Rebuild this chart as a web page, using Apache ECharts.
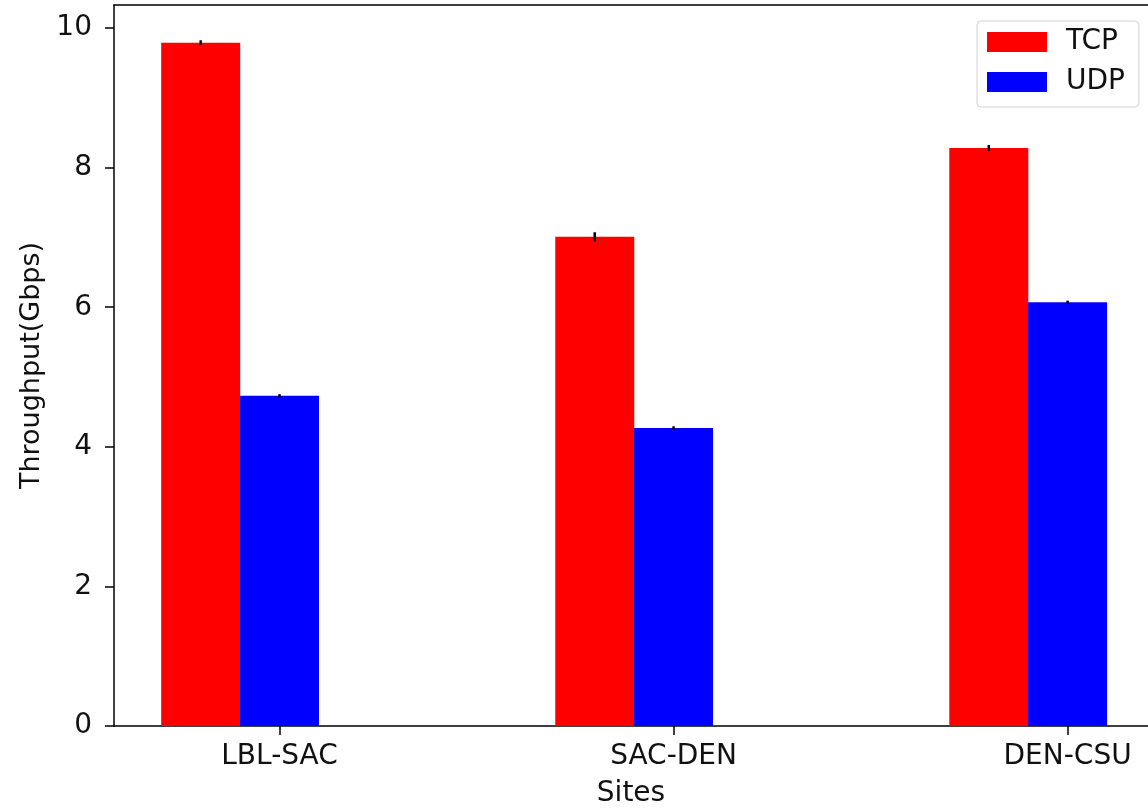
<!DOCTYPE html>
<html>
<head>
<meta charset="utf-8">
<script src="https://cdn.jsdelivr.net/npm/echarts@6/dist/echarts.min.js"></script>
<style>
  html, body { margin: 0; padding: 0; background: #fff; }
  #chart { width: 1148px; height: 808px; }
</style>
</head>
<body>
<div id="chart"></div>
<script>
// Measured throughput per site pair (Gbps)
const sites = ['LBL-SAC', 'SAC-DEN', 'DEN-CSU'];
const tcp = [9.79, 7.01, 8.28];
const udp = [4.73, 4.27, 6.07];
const tcpErr = [0.02, 0.05, 0.03];
const udpErr = [0.01, 0.01, 0.01];
const yTicks = [0, 2, 4, 6, 8, 10];

// bar slot width on the numeric x scale; TCP sits one slot left of each site tick
const slot = 0.2;

const tcpPoints = sites.map((s, i) => [i - slot, tcp[i]]);
const udpPoints = sites.map((s, i) => [i, udp[i]]);
const errPoints = [
  ...sites.map((s, i) => [i - slot, tcp[i], tcpErr[i]]),
  ...sites.map((s, i) => [i, udp[i], udpErr[i]])
];

const font = 'DejaVu Sans';
const ink = '#111';
const fs = 28;
const chart = echarts.init(document.getElementById('chart'), null, { renderer: 'canvas' });

chart.setOption({
  animation: false,
  backgroundColor: '#fff',
  textStyle: { fontFamily: font },
  grid: {
    left: 114, top: 5, right: 0, bottom: 82,
    outerBoundsMode: 'none',
    containLabel: false
  },
  legend: {
    orient: 'vertical',
    left: 977, top: 21,
    padding: [7, 14, 11, 10],
    itemWidth: 60, itemHeight: 20, itemGap: 12,
    backgroundColor: '#fff',
    borderColor: '#d0d0d0', borderWidth: 1, borderRadius: 4,
    icon: 'rect',
    textStyle: { fontFamily: font, fontSize: fs, color: ink, padding: [0, 0, 0, 14] },
    data: ['TCP', 'UDP']
  },
  xAxis: [
    {
      type: 'value',
      min: -0.42, max: 2.204,
      name: 'Sites',
      nameLocation: 'middle',
      nameGap: 54,
      nameTextStyle: { fontFamily: font, fontSize: fs, color: ink },
      axisLine: { show: true, onZero: false, lineStyle: { color: '#000', width: 1.5 } },
      axisTick: { show: true, customValues: [0, 1, 2], length: 9, lineStyle: { color: '#000', width: 1.5 } },
      axisLabel: {
        customValues: [0, 1, 2],
        formatter: v => sites[Math.round(v)],
        margin: 17,
        fontFamily: font, fontSize: fs, color: ink
      },
      splitLine: { show: false }
    },
    {
      // top frame line
      type: 'value', position: 'top',
      min: -0.42, max: 2.204,
      axisLine: { show: true, onZero: false, lineStyle: { color: '#000', width: 1.5 } },
      axisTick: { show: false },
      axisLabel: { show: false },
      splitLine: { show: false }
    }
  ],
  yAxis: {
    type: 'value',
    min: 0, max: 10.33,
    name: 'Throughput(Gbps)',
    nameLocation: 'middle',
    nameGap: 65,
    nameTextStyle: { fontFamily: font, fontSize: 27, color: ink },
    axisLine: { show: true, onZero: false, lineStyle: { color: '#000', width: 1.5 } },
    axisTick: { show: true, customValues: yTicks, length: 9, lineStyle: { color: '#000', width: 1.5 } },
    axisLabel: {
      customValues: yTicks,
      margin: 22,
      fontFamily: font, fontSize: fs, color: ink
    },
    splitLine: { show: false }
  },
  series: [
    {
      name: 'TCP', type: 'bar',
      data: tcpPoints,
      barWidth: 79,
      itemStyle: { color: '#ff0000' }
    },
    {
      name: 'UDP', type: 'bar',
      data: udpPoints,
      barWidth: 79,
      barGap: '-100%',
      itemStyle: { color: '#0000ff' }
    },
    {
      name: 'error', type: 'custom',
      z: 10,
      data: errPoints,
      renderItem: (params, api) => {
        const x = api.value(0), v = api.value(1), e = api.value(2);
        const lo = api.coord([x, v - e]);
        const hi = api.coord([x, v + e]);
        return {
          type: 'line',
          shape: { x1: lo[0], y1: lo[1] + 1, x2: hi[0], y2: hi[1] - 1 },
          style: { stroke: '#000', lineWidth: 2.5 }
        };
      }
    }
  ]
});
</script>
</body>
</html>
